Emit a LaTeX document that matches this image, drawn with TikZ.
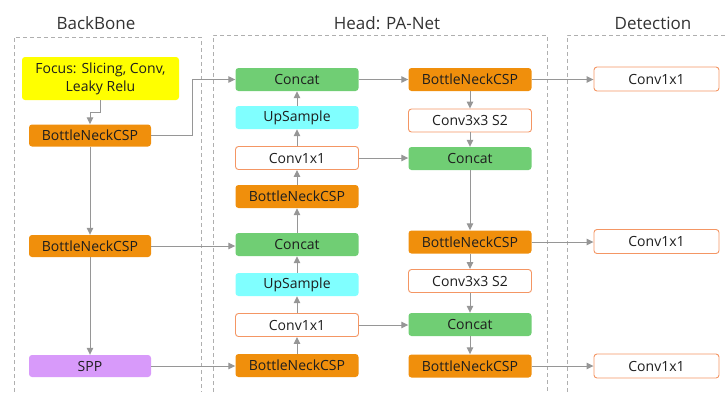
\documentclass[tikz,border=0pt]{standalone}
\usepackage{fontspec}
\setmainfont{Open Sans}
\usetikzlibrary{arrows.meta}
\definecolor{orng}{RGB}{240,143,12}
\definecolor{grn}{RGB}{112,206,116}
\definecolor{cyn}{RGB}{128,255,255}
\definecolor{ylw}{RGB}{255,255,0}
\definecolor{prp}{RGB}{216,154,250}
\definecolor{coral}{RGB}{244,150,100}
\definecolor{lne}{RGB}{150,150,150}
\definecolor{dsh}{RGB}{175,175,175}
\definecolor{txt}{RGB}{30,30,30}
\begin{document}
\begin{tikzpicture}[x=1pt,y=-1pt,
  base/.style={rounded corners=3pt, minimum width=123pt, minimum height=23pt, inner sep=0pt,
    font=\fontsize{14}{18}\selectfont, text=txt},
  bneck/.style={base, fill=orng},
  cat/.style={base, fill=grn},
  ups/.style={base, fill=cyn},
  conv/.style={base, draw=coral, fill=white, line width=0.9pt},
  spp/.style={base, fill=prp},
  focus/.style={base, fill=ylw, minimum width=157pt, minimum height=43pt, align=center},
  title/.style={font=\fontsize{17}{20}\selectfont, text=black!80},
  arr/.style={draw=lne, line width=1pt, -{Triangle[length=7pt,width=6.5pt]}},
  frame/.style={draw=dsh, line width=0.9pt, dash pattern=on 4pt off 3pt}
]
\useasboundingbox (0,0) rectangle (726,392);
% frames
\draw[frame] (14,392) -- (14,37) -- (201,37) -- (201,392);
\draw[frame] (213,392) -- (213,35) -- (547,35) -- (547,392);
\draw[frame] (567,392) -- (567,35) -- (726,35);
\node[title] (t1) at (96,23) {BackBone};
\node[title] (t2) at (387,23) {Head: PA-Net};
\node[title] (t3) at (653,23) {Detection};
% backbone
\node[focus] (focus) at (100.5,78.5) {Focus: Slicing, Conv,\\Leaky Relu};
\node[bneck, minimum width=122pt, minimum height=22pt] (bb1) at (90,135.5) {BottleNeckCSP};
\node[bneck, minimum width=122pt, minimum height=22pt] (bb2) at (90,246) {BottleNeckCSP};
\node[spp, minimum width=122pt, minimum height=22pt] (spp) at (90,366) {SPP};
% head column 1
\node[cat] (c1a) at (297,79.5) {Concat};
\node[ups] (u1a) at (297,117.5) {UpSample};
\node[conv] (v1a) at (297,158) {Conv1x1};
\node[bneck] (b1a) at (297,196.5) {BottleNeckCSP};
\node[cat] (c1b) at (297,244.5) {Concat};
\node[ups] (u1b) at (297,284.5) {UpSample};
\node[conv] (v1b) at (297,325) {Conv1x1};
\node[bneck] (b1b) at (297,365.5) {BottleNeckCSP};
% head column 2
\node[bneck] (b2a) at (470,79.5) {BottleNeckCSP};
\node[conv] (s2a) at (470,120.5) {Conv3x3 S2};
\node[cat] (c2a) at (470,158.5) {Concat};
\node[bneck] (b2b) at (470,242) {BottleNeckCSP};
\node[conv] (s2b) at (470,281) {Conv3x3 S2};
\node[cat] (c2b) at (470,324.5) {Concat};
\node[bneck] (b2c) at (470,366) {BottleNeckCSP};
% detection
\node[conv, minimum width=125pt, minimum height=24pt] (d1) at (656.5,79) {Conv1x1};
\node[conv, minimum width=125pt, minimum height=24pt] (d2) at (656.5,241.5) {Conv1x1};
\node[conv, minimum width=125pt, minimum height=24pt] (d3) at (656.5,366) {Conv1x1};
% connectors backbone
\draw[arr] (focus.south) -- ++(0,12) -| (bb1.north);
\draw[arr] (bb1.south) -- (bb2.north);
\draw[arr] (bb2.south) -- (spp.north);
\draw[arr] (bb1.east) -- ++(41,0) |- (c1a.west);
\draw[arr] (bb2.east) -- (bb2.east -| c1b.west);
\draw[arr] (spp.east) -- (spp.east -| b1b.west);
% column 1 upward
\draw[arr] (b1b.north) -- (v1b.south);
\draw[arr] (v1b.north) -- (u1b.south);
\draw[arr] (u1b.north) -- (c1b.south);
\draw[arr] (c1b.north) -- (b1a.south);
\draw[arr] (b1a.north) -- (v1a.south);
\draw[arr] (v1a.north) -- (u1a.south);
\draw[arr] (u1a.north) -- (c1a.south);
% cross links
\draw[arr] (c1a.east) -- (b2a.west);
\draw[arr] (v1a.east) -- (v1a.east -| c2a.west);
\draw[arr] (v1b.east) -- (v1b.east -| c2b.west);
% column 2 downward
\draw[arr] (b2a.south) -- (s2a.north);
\draw[arr] (s2a.south) -- (c2a.north);
\draw[arr] (c2a.south) -- (b2b.north);
\draw[arr] (b2b.south) -- (s2b.north);
\draw[arr] (s2b.south) -- (c2b.north);
\draw[arr] (c2b.south) -- (b2c.north);
% to detection
\draw[arr] (b2a.east) -- (b2a.east -| d1.west);
\draw[arr] (b2b.east) -- (b2b.east -| d2.west);
\draw[arr] (b2c.east) -- (b2c.east -| d3.west);
\end{tikzpicture}
\end{document}
